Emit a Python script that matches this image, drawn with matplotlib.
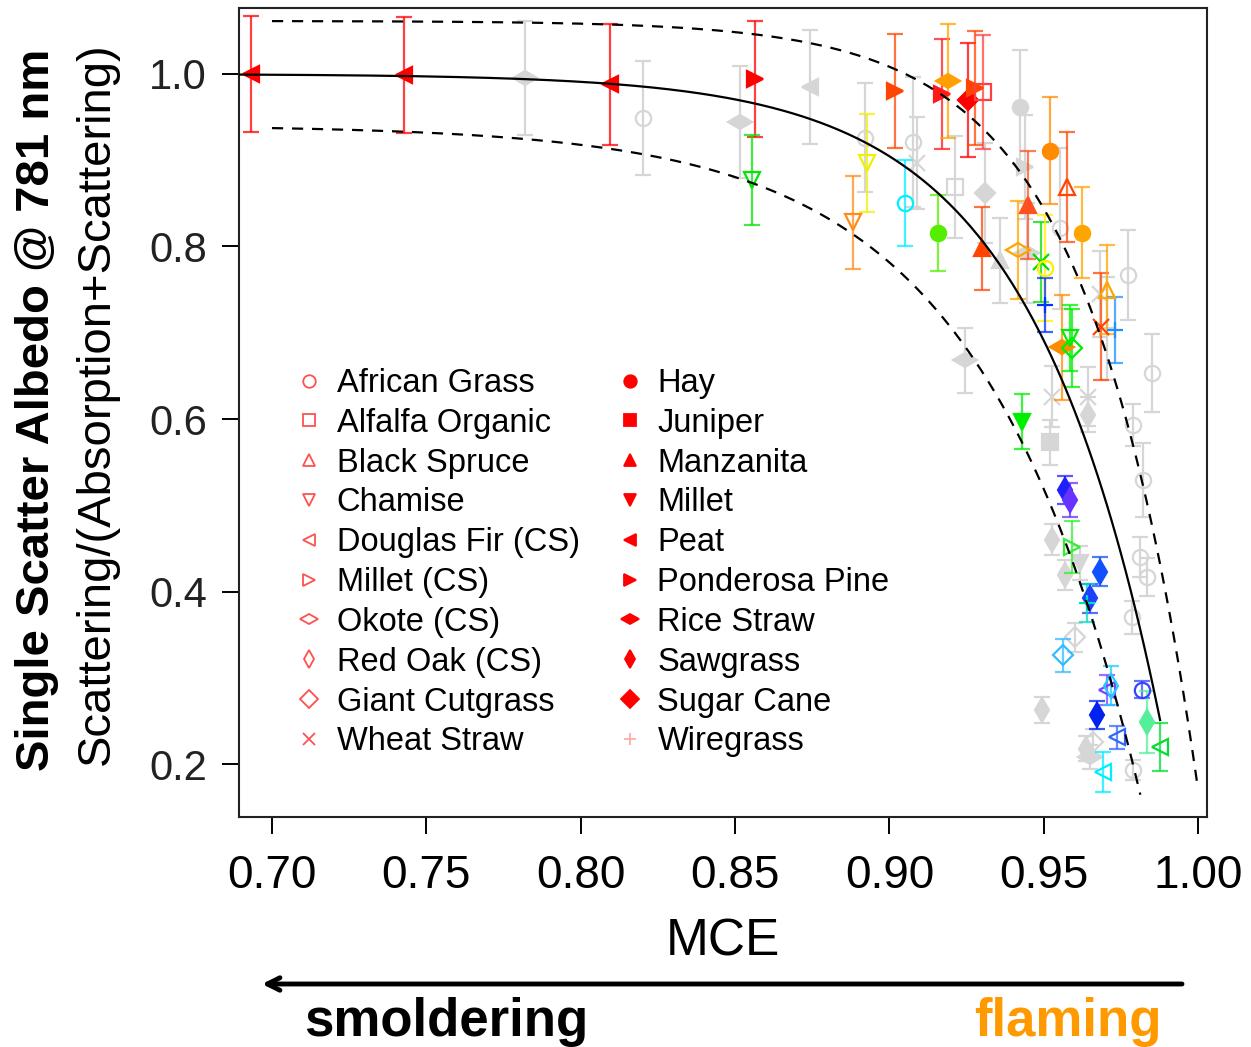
import matplotlib
matplotlib.use("Agg")
import matplotlib.pyplot as plt
import numpy as np
from matplotlib.markers import MarkerStyle
from matplotlib.transforms import Affine2D
from matplotlib.lines import Line2D
from matplotlib import font_manager as fm

# ---------------- data ----------------
fuels = ["African Grass", "Alfalfa Organic", "Black Spruce", "Chamise", "Douglas Fir (CS)",
         "Millet (CS)", "Okote (CS)", "Red Oak (CS)", "Giant Cutgrass", "Wheat Straw",
         "Hay", "Juniper", "Manzanita", "Millet", "Peat", "Ponderosa Pine", "Rice Straw",
         "Sawgrass", "Sugar Cane", "Wiregrass"]
open_fuels = fuels[:10]

col_fuel = ["Peat", "Peat", "Peat", "Ponderosa Pine", "Chamise", "Chamise", "Chamise",
            "Ponderosa Pine", "African Grass", "Hay", "Ponderosa Pine", "Rice Straw",
            "Sugar Cane", "Ponderosa Pine", "Alfalfa Organic", "Manzanita", "Manzanita",
            "Okote (CS)", "Wheat Straw", "African Grass", "Wiregrass", "Hay", "Black Spruce",
            "Hay", "Rice Straw", "Giant Cutgrass", "Chamise", "Wheat Straw", "Black Spruce",
            "Wiregrass", "Millet", "Sawgrass", "Sawgrass", "Millet (CS)", "Sawgrass",
            "Sawgrass", "Wiregrass", "Giant Cutgrass", "Sawgrass", "Douglas Fir (CS)",
            "Red Oak (CS)", "African Grass", "Sawgrass", "Douglas Fir (CS)",
            "Douglas Fir (CS)", "Douglas Fir (CS)"]
col_mce = [0.6932, 0.7428, 0.8095, 0.8565, 0.8555, 0.8883, 0.8928, 0.9019, 0.9051, 0.9158,
           0.9171, 0.9190, 0.9255, 0.9278, 0.9304, 0.9300, 0.9450, 0.9417, 0.9492, 0.9505,
           0.9505, 0.9521, 0.9576, 0.9625, 0.9560, 0.9592, 0.9586, 0.9686, 0.9706, 0.9732,
           0.9430, 0.9570, 0.9586, 0.9592, 0.9683, 0.9650, 0.9641, 0.9563, 0.9673, 0.9706,
           0.9719, 0.9819, 0.9835, 0.9877, 0.9738, 0.9693]
col_ssa = [1.000, 0.999, 0.988, 0.994, 0.877, 0.828, 0.897, 0.980, 0.850, 0.816,
           0.977, 0.992, 0.970, 0.984, 0.979, 0.798, 0.848, 0.796, 0.782, 0.775,
           0.732, 0.911, 0.869, 0.816, 0.683, 0.682, 0.694, 0.707, 0.750, 0.703,
           0.597, 0.518, 0.506, 0.452, 0.423, 0.392, 0.387, 0.326, 0.257, 0.286,
           0.291, 0.286, 0.249, 0.220, 0.231, 0.191]
col_err = [0.067, 0.067, 0.070, 0.067, 0.052, 0.054, 0.057, 0.066, 0.050, 0.044,
           0.064, 0.066, 0.066, 0.066, 0.066, 0.048, 0.063, 0.057, 0.046, 0.061,
           0.031, 0.062, 0.064, 0.053, 0.061, 0.045, 0.038, 0.062, 0.052, 0.038,
           0.032, 0.016, 0.020, 0.030, 0.017, 0.017, 0.022, 0.019, 0.016, 0.017,
           0.023, 0.010, 0.036, 0.028, 0.013, 0.023]
col_color = ["#FF0000", "#FF0000", "#FF0000", "#FF0000", "#00E600", "#FF8C1A", "#F0F000",
             "#FF4500", "#00F0FF", "#55EE00", "#FF1A1A", "#FFA000", "#FF0000", "#FF4500",
             "#FF4040", "#FF4500", "#FF5020", "#FFA500", "#00DD00", "#FFEE00", "#0033FF",
             "#FF8C00", "#FF4500", "#FFA500", "#FF8C00", "#00EE00", "#00EE00", "#FF4500",
             "#FFA500", "#1E90FF", "#00EE00", "#2020FF", "#6633FF", "#33EE33", "#1050FF",
             "#2040FF", "#00DDBB", "#33BBFF", "#0022EE", "#7744FF", "#22CCFF", "#3344FF",
             "#55EE99", "#00DD33", "#3366FF", "#00EEFF"]

gray_fuel = ["Rice Straw", "African Grass", "Rice Straw", "Peat", "African Grass",
             "African Grass", "Wheat Straw", "Alfalfa Organic", "Sugar Cane", "Manzanita",
             "Hay", "Ponderosa Pine", "Rice Straw", "African Grass", "Wheat Straw",
             "Wiregrass", "African Grass", "African Grass", "Rice Straw", "Wheat Straw",
             "Wheat Straw", "Juniper", "Sawgrass", "African Grass", "African Grass",
             "Sawgrass", "Millet", "Sawgrass", "African Grass", "African Grass",
             "African Grass", "Giant Cutgrass", "Sawgrass", "Sawgrass", "Giant Cutgrass",
             "Rice Straw", "African Grass"]
gray_mce = [0.782, 0.8202, 0.8517, 0.8743, 0.8922, 0.9077, 0.909, 0.9213, 0.931, 0.9359,
            0.9424, 0.944, 0.9447, 0.9553, 0.9683, 0.9706, 0.9774, 0.9852, 0.9246, 0.9528,
            0.9644, 0.9521, 0.9644, 0.979, 0.9822, 0.9528, 0.9618, 0.957, 0.9813, 0.9835,
            0.9787, 0.9602, 0.9495, 0.9638, 0.9660, 0.9650, 0.979]
gray_ssa = [0.995, 0.949, 0.944, 0.985, 0.926, 0.921, 0.897, 0.869, 0.862, 0.784,
            0.962, 0.892, 0.792, 0.821, 0.745, 0.705, 0.767, 0.653, 0.668, 0.626,
            0.626, 0.573, 0.605, 0.593, 0.529, 0.460, 0.433, 0.419, 0.440, 0.417,
            0.370, 0.347, 0.263, 0.218, 0.226, 0.208, 0.193]
gray_err = [0.066, 0.066, 0.065, 0.066, 0.063, 0.075, 0.053, 0.059, 0.058, 0.049,
            0.066, 0.060, 0.058, 0.093, 0.050, 0.060, 0.052, 0.045, 0.038, 0.035,
            0.034, 0.026, 0.020, 0.024, 0.043, 0.018, 0.020, 0.017, 0.023, 0.022,
            0.019, 0.017, 0.015, 0.015, 0.015, 0.014, 0.012]

# fitted curve parameters:  SSA = A - exp(K * (MCE - M))
fit_A, fit_K, fit_M, fit_range = 1.0, 23.5, 1.0, (0.6893, 0.9877)
upper_A, upper_K, upper_M, upper_range = 1.0615, 28.2, 1.0041, (0.700, 0.9997)
lower_A, lower_K, lower_M, lower_range = 0.9405, 19.5, 0.9943, (0.700, 0.9813)

x_ticks = [0.70, 0.75, 0.80, 0.85, 0.90, 0.95, 1.00]
x_ticklabels = ["0.70", "0.75", "0.80", "0.85", "0.90", "0.95", "1.00"]
y_ticks = [0.2, 0.4, 0.6, 0.8, 1.0]
y_ticklabels = ["0.2", "0.4", "0.6", "0.8", "1.0"]

# ---------------- style helpers ----------------
names = {f.name for f in fm.fontManager.ttflist}
BASE = "Liberation Sans" if "Liberation Sans" in names else "DejaVu Sans"
NARROW = "Liberation Sans Narrow" if "Liberation Sans Narrow" in names else BASE
plt.rcParams["font.family"] = [BASE, "DejaVu Sans"]

hdiamond = MarkerStyle("d", transform=Affine2D().rotate_deg(90))
marker_of = {
    "African Grass": "o", "Alfalfa Organic": "s", "Black Spruce": "^", "Chamise": "v",
    "Douglas Fir (CS)": "<", "Millet (CS)": ">", "Okote (CS)": hdiamond, "Red Oak (CS)": "d",
    "Giant Cutgrass": "D", "Wheat Straw": "x",
    "Hay": "o", "Juniper": "s", "Manzanita": "^", "Millet": "v", "Peat": "<",
    "Ponderosa Pine": ">", "Rice Straw": hdiamond, "Sawgrass": "d", "Sugar Cane": "D",
    "Wiregrass": "+",
}
size_of = {"Giant Cutgrass": 10, "Sugar Cane": 10, "Okote (CS)": 12, "Rice Straw": 12,
           "Red Oak (CS)": 12, "Sawgrass": 12}


def draw_point(ax, fuel, x, y, err, color, ecolor, ealpha, z):
    ax.errorbar([x], [y], yerr=[err], fmt="none", ecolor=ecolor, elinewidth=1.6,
                capsize=6, capthick=1.6, alpha=ealpha, zorder=z)
    ms = size_of.get(fuel, 11)
    if fuel in open_fuels:
        ax.plot([x], [y], linestyle="none", marker=marker_of[fuel], ms=ms,
                mfc="none", mec=color, mew=1.6, zorder=z + 0.5)
    else:
        ax.plot([x], [y], linestyle="none", marker=marker_of[fuel], ms=ms,
                mfc=color, mec=color, mew=1.6, zorder=z + 0.5)


# ---------------- figure ----------------
W, H = 1251, 1047
fig = plt.figure(figsize=(W / 100, H / 100), dpi=100)
ax = fig.add_axes([239 / W, 1 - 817 / H, (1207 - 239) / W, (817 - 8) / H])

GRAY = "#D6D6D6"
for f, x, y, e in zip(gray_fuel, gray_mce, gray_ssa, gray_err):
    draw_point(ax, f, x, y, e, GRAY, GRAY, 1.0, 2)

for f, x, y, e, c in zip(col_fuel, col_mce, col_ssa, col_err, col_color):
    draw_point(ax, f, x, y, e, c, c, 0.75, 4)

for A, K, M, rng, ls in [(fit_A, fit_K, fit_M, fit_range, "-"),
                         (upper_A, upper_K, upper_M, upper_range, "--"),
                         (lower_A, lower_K, lower_M, lower_range, "--")]:
    xs = np.linspace(rng[0], rng[1], 400)
    ys = A - np.exp(K * (xs - M))
    line, = ax.plot(xs, ys, color="black", lw=1.6, ls=ls, zorder=6)
    if ls == "--":
        line.set_dashes((5, 4))

ax.set_xlim(0.6893, 1.0029)
ax.set_ylim(0.1386, 1.0765)
ax.set_xticks(x_ticks)
ax.set_xticklabels(x_ticklabels, fontsize=33, family=NARROW)
ax.set_yticks(y_ticks)
ax.set_yticklabels(y_ticklabels, fontsize=30, color="#222222")
ax.tick_params(axis="x", direction="out", length=12, width=1.4, pad=15)
ax.tick_params(axis="y", direction="out", length=12, width=1.4, pad=11)
for s in ax.spines.values():
    s.set_linewidth(1.5)
    s.set_color("#222222")

ax.set_xlabel("MCE", fontsize=37, family=NARROW, labelpad=14)

# two-line y label
fig.text(37 / W, 1 - 410 / H, "Single Scatter Albedo @ 781 nm", rotation=90,
         ha="center", va="center", fontsize=34, fontweight="bold")
fig.text(97 / W, 1 - 404 / H, "Scattering/(Absorption+Scattering)", rotation=90,
         ha="center", va="center", fontsize=34)

# legend
handles = []
for f in fuels:
    if f in open_fuels:
        h = Line2D([], [], linestyle="none", marker=marker_of[f], ms=9, mfc="none",
                   mec="#FF5050", mew=1.3)
    else:
        c = "#FFAAAA" if f == "Wiregrass" else "#FF0000"
        h = Line2D([], [], linestyle="none", marker=marker_of[f], ms=9, mfc=c, mec=c,
                   mew=1.3)
    handles.append(h)
ax.legend(handles, fuels, ncol=2, frameon=False, loc="upper left",
          bbox_to_anchor=((296 - 239) / (1207 - 239), (817 - 368) / (817 - 8)),
          borderaxespad=0, borderpad=0, fontsize=23.5, handlelength=0.8,
          handletextpad=0.45, columnspacing=1.13, labelspacing=0.27)

# bottom arrow and labels
ya = 1 - 984 / H
ax.annotate("", xy=(262 / W, ya), xytext=(1182 / W, ya), xycoords="figure fraction",
            textcoords="figure fraction",
            arrowprops=dict(arrowstyle="->,head_length=0.9,head_width=0.45", lw=3.5,
                            color="black", shrinkA=0, shrinkB=0))
fig.text(446 / W, 1 - 1036 / H, "smoldering", ha="center", va="baseline",
         fontsize=38, fontweight="bold", family=NARROW)
fig.text(1068 / W, 1 - 1036 / H, "flaming", ha="center", va="baseline",
         fontsize=38, fontweight="bold", family=NARROW, color="#FF9900")

fig.savefig("out.png", dpi=100)
